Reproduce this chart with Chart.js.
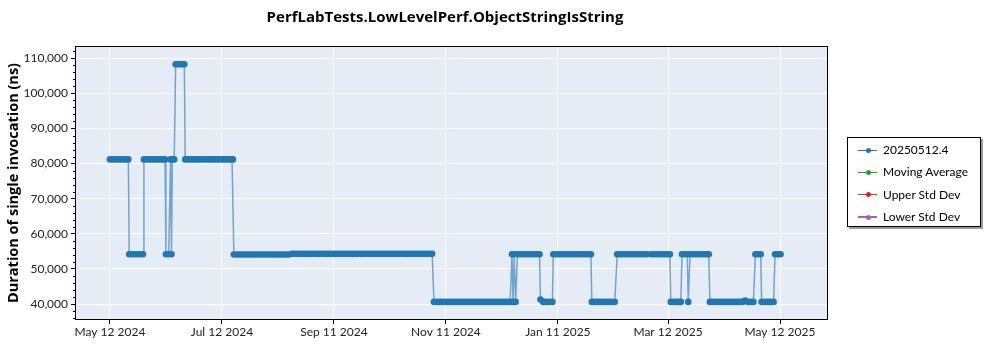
<!DOCTYPE html>
<html>
<head>
<meta charset="utf-8">
<script src="https://cdn.jsdelivr.net/npm/chart.js@4.4.1/dist/chart.umd.min.js"></script>
<style>
  html, body { margin: 0; padding: 0; background: #fff; }
  #wrap { position: relative; width: 1000px; height: 350px; }
  #perfChart { position: absolute; left: 0; top: 0; }
  #legend {
    position: absolute; left: 847px; top: 137px; width: 134px; height: 90px;
    border: 1px solid #000; background: #fff; box-shadow: 2px 2px 0 #9a9a9a;
    font: 12px Lato, sans-serif; color: #000; box-sizing: border-box; padding-top: 1px;
  }
  .legRow { position: relative; height: 22.3px; line-height: 22.3px; padding-left: 35px; white-space: nowrap; }
  .legLine { position: absolute; left: 10px; top: 10.5px; width: 19px; height: 1.2px; }
  .legDot { position: absolute; left: 17.5px; top: 8.7px; width: 5px; height: 5px; border-radius: 50%; }
</style>
</head>
<body>
<div id="wrap">
  <canvas id="perfChart" width="890" height="350"></canvas>
  <div id="legend"></div>
</div>
<script>
// days since May 12 2024, one entry per run
const runDays = [
  0, 1.5, 3, 4.5, 6, 7.5, 9, 10,
  10.5, 12, 13.5, 15, 16.5, 18,
  18.5, 20, 21.5, 23, 24.5, 26, 27.5, 29, 30,
  30.5, 32, 33, 33.5, 34, 35,
  35.8, 37, 38.2, 39.4, 40.5,
  41, 42.5, 44, 45.5, 47, 48.5, 50, 51.5, 53, 54.5, 56, 57.5, 59, 60.5, 62, 63.5, 65, 66.5, 67,
  67.5, 69, 70.5, 72, 73.5, 75, 76.5, 78, 79.5, 81, 82.5, 84, 85.5, 87, 88.5, 90, 91.5, 93, 94.5, 96, 97.5,
  99, 100.5, 102, 103.5, 105, 106.5, 108, 109.5, 111, 112.5, 114, 115.5, 117, 118.5, 120, 121.5, 123, 124.5, 126, 127.5, 129, 130.5, 132, 133.5, 135, 136.5,
  138, 139.5, 141, 142.5, 144, 145.5, 147, 148.5, 150, 151.5, 153, 154.5, 156, 157.5, 159, 160.5, 162, 163.5, 165, 166.5, 168, 169.5, 171, 172.5, 174, 175.5,
  176.5, 178, 179.5, 181, 182.5, 184, 185.5, 187, 188.5, 190, 191.5, 193, 194.5, 196,
  197.5, 199, 200.5, 202, 203.5, 205, 206.5, 208, 209.5, 211, 212.5, 214, 215.5, 217, 218,
  219, 219.6, 220.2, 221,
  222, 223.5, 225, 226.5, 228, 229.5, 231, 232.5, 234,
  234.5, 236, 237.5, 239, 241,
  241.5, 243, 244.5, 246, 247.5, 249, 250.5, 252, 253.5, 255, 256.5, 258, 259.5, 261, 262,
  262.5, 264, 265.5, 267, 268.5, 270, 271.5, 273, 275,
  276.3, 277.5, 279, 280.5, 282, 283.5, 285, 286.5, 288, 289.5, 291, 292.5,
  295, 296.5, 298, 299.5, 301, 302.5, 304, 305,
  305.5, 307, 308.5, 310, 311,
  311.6, 313, 314.5,
  315,
  316, 317.5, 319, 320.5, 322, 323.5, 325, 326.2,
  326.8, 328, 329.5, 331, 332.5, 334, 335.5, 337, 338.5, 340, 341.5, 343, 344.5, 346, 347.5, 349, 350.5,
  351.6, 353, 354.5,
  355, 357, 358.5, 360, 361.5,
  362.3, 363.8, 365.3
];

const durationNs = [
  81200, 81200, 81200, 81200, 81200, 81200, 81200, 81200,
  54200, 54200, 54200, 54200, 54200, 54200,
  81200, 81200, 81200, 81200, 81200, 81200, 81200, 81200, 81200,
  54200, 54200, 81200, 54200, 81200, 81200,
  108300, 108300, 108300, 108300, 108300,
  81200, 81200, 81200, 81200, 81200, 81200, 81200, 81200, 81200, 81200, 81200, 81200, 81200, 81200, 81200, 81200, 81200, 81200, 81200,
  54100, 54100, 54100, 54100, 54100, 54100, 54100, 54100, 54100, 54100, 54100, 54100, 54100, 54100, 54100, 54100, 54100, 54100, 54100, 54100, 54100,
  54300, 54300, 54300, 54300, 54300, 54300, 54300, 54300, 54300, 54300, 54300, 54300, 54300, 54300, 54300, 54300, 54300, 54300, 54300, 54300, 54300, 54300, 54300, 54300, 54300, 54300,
  54300, 54300, 54300, 54300, 54300, 54300, 54300, 54300, 54300, 54300, 54300, 54300, 54300, 54300, 54300, 54300, 54300, 54300, 54300, 54300, 54300, 54300, 54300, 54300, 54300, 54300,
  40600, 40600, 40600, 40600, 40600, 40600, 40600, 40600, 40600, 40600, 40600, 40600, 40600, 40600,
  40600, 40600, 40600, 40600, 40600, 40600, 40600, 40600, 40600, 40600, 40600, 40600, 40600, 40600, 40600,
  54200, 40600, 54200, 40600,
  54200, 54200, 54200, 54200, 54200, 54200, 54200, 54200, 54200,
  41300, 40600, 40600, 40600, 40600,
  54200, 54200, 54200, 54200, 54200, 54200, 54200, 54200, 54200, 54200, 54200, 54200, 54200, 54200, 54200,
  40600, 40600, 40600, 40600, 40600, 40600, 40600, 40600, 40600,
  54200, 54200, 54200, 54200, 54200, 54200, 54200, 54200, 54200, 54200, 54200, 54200,
  54200, 54200, 54200, 54200, 54200, 54200, 54200, 54200,
  40600, 40600, 40600, 40600, 40600,
  54200, 54200, 54200,
  40600,
  54200, 54200, 54200, 54200, 54200, 54200, 54200, 54200,
  40600, 40600, 40600, 40600, 40600, 40600, 40600, 40600, 40600, 40600, 40600, 40600, 40600, 41000, 40600, 40600, 40600,
  54200, 54200, 54200,
  40600, 40600, 40600, 40600, 40600,
  54200, 54200, 54200
];

const tickDays = [0, 61, 122, 183, 244, 304, 365];
const tickLabels = ["May 12 2024", "Jul 12 2024", "Sep 11 2024", "Nov 11 2024", "Jan 11 2025", "Mar 12 2025", "May 12 2025"];
const yTicks = [40000, 50000, 60000, 70000, 80000, 90000, 100000, 110000];

const legendNames = ["20250512.4", "Moving Average", "Upper Std Dev", "Lower Std Dev"];
const legendColors = ["#1f77b4", "#2ca02c", "#d62728", "#9467bd"];

const FONT = "Lato, 'Noto Sans', sans-serif";
const TITLE_FONT = "'Open Sans', Lato, sans-serif";

// plot background, frame and minor y ticks
const plotFrame = {
  id: "plotFrame",
  beforeDraw(chart) {
    const { ctx, chartArea: a } = chart;
    ctx.save();
    ctx.fillStyle = "#e5ecf6";
    ctx.fillRect(a.left, a.top, a.width, a.height);
    ctx.restore();
  },
  afterDraw(chart) {
    const { ctx, chartArea: a } = chart;
    const y = chart.scales.y;
    ctx.save();
    ctx.strokeStyle = "#000";
    ctx.lineWidth = 1;
    ctx.strokeRect(Math.round(a.left) - 0.5, Math.round(a.top) + 0.5, Math.round(a.width) + 1, Math.round(a.height) - 1);
    ctx.beginPath();
    for (let v = 36000; v <= 113000; v += 2000) {
      if (v % 10000 === 0) continue;
      const py = Math.round(y.getPixelForValue(v)) + 0.5;
      ctx.moveTo(a.left - 3, py);
      ctx.lineTo(a.left, py);
    }
    ctx.stroke();
    ctx.restore();
  }
};

new Chart(document.getElementById("perfChart"), {
  type: "line",
  data: {
    datasets: [
      {
        label: legendNames[0],
        data: runDays.map((d, i) => ({ x: d, y: durationNs[i] })),
        borderColor: "rgba(31,119,180,0.6)",
        borderWidth: 1.5,
        pointRadius: 3.3,
        pointBorderWidth: 0,
        pointBackgroundColor: "#1f77b4",
        tension: 0,
      },
    ],
  },
  options: {
    responsive: false,
    animation: false,
    layout: { padding: 0 },
    plugins: {
      legend: { display: false },
      tooltip: { enabled: false },
      title: {
        display: true,
        text: "PerfLabTests.LowLevelPerf.ObjectStringIsString",
        color: "#000",
        font: { family: TITLE_FONT, size: 15, weight: "bold" },
        padding: { top: 9, bottom: 19 },
      },
    },
    scales: {
      x: {
        type: "linear",
        min: -18.5,
        max: 390.6,
        afterBuildTicks: (axis) => { axis.ticks = tickDays.map((v) => ({ value: v })); },
        afterFit: (s) => { s.height = 30; },
        ticks: {
          autoSkip: false,
          maxRotation: 0,
          padding: 1,
          color: "#222",
          font: { family: FONT, size: 12 },
          callback: (v) => tickLabels[tickDays.indexOf(v)],
        },
        grid: { color: "#fff", lineWidth: 1, tickColor: "#000", tickLength: 4 },
        border: { display: false },
      },
      y: {
        min: 35450,
        max: 113500,
        afterBuildTicks: (axis) => { axis.ticks = yTicks.map((v) => ({ value: v })); },
        afterFit: (s) => { s.width = 76; },
        ticks: {
          padding: 3,
          color: "#222",
          font: { family: FONT, size: 12 },
          callback: (v) => v.toLocaleString("en-US"),
        },
        grid: { color: "#fff", lineWidth: 1, tickColor: "#000", tickLength: 5 },
        border: { display: false },
        title: {
          display: true,
          text: "Duration of single invocation (ns)",
          color: "#000",
          font: { family: TITLE_FONT, size: 14.5, weight: "bold" },
          padding: { top: 5, bottom: 0 },
        },
      },
      // empty right axis, only keeps room for the legend column
      spacer: {
        type: "linear",
        position: "right",
        grid: { display: false },
        ticks: { display: false },
        border: { display: false },
        afterFit: (s) => { s.width = 63; },
      },
    },
  },
  plugins: [plotFrame],
});

// legend box
const legendEl = document.getElementById("legend");
legendEl.innerHTML = legendNames
  .map(
    (name, i) => `
    <div class="legRow">
      <span class="legLine" style="background:${legendColors[i]}"></span>
      <span class="legDot" style="background:${legendColors[i]}"></span>
      ${name}
    </div>`
  )
  .join("");
</script>
</body>
</html>
